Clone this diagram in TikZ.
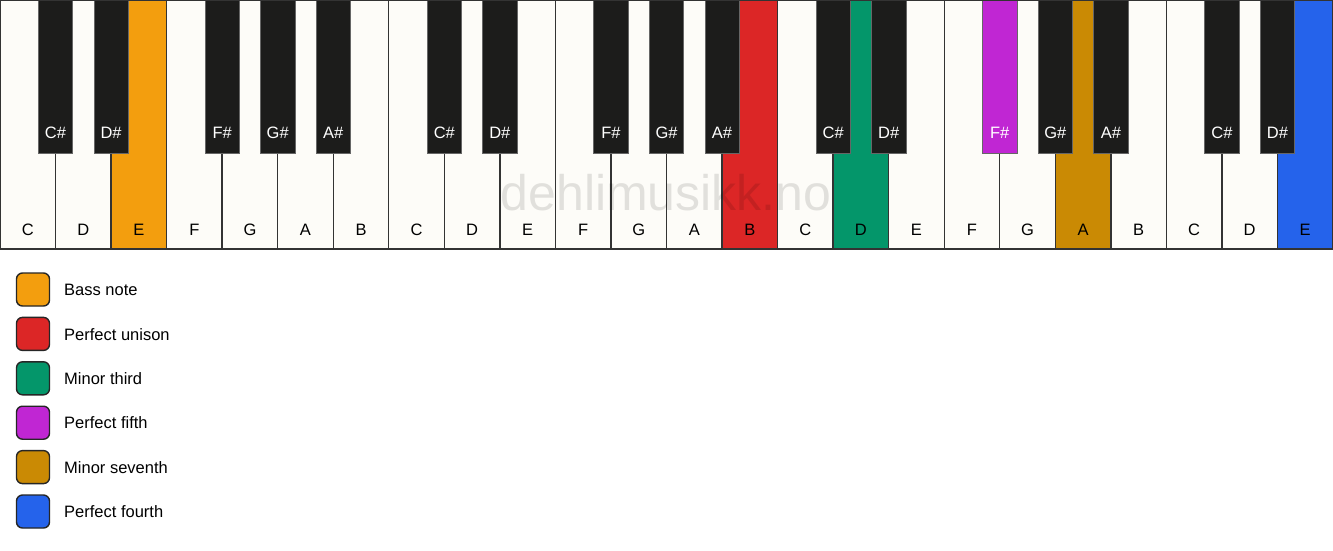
\documentclass[tikz,border=0pt]{standalone}
\usepackage{fontspec}
\setmainfont{Liberation Sans}
\usetikzlibrary{calc}
\definecolor{ivory}{HTML}{FDFCF8}
\definecolor{keyblack}{HTML}{1C1C1B}
\definecolor{edge}{HTML}{333333}
\definecolor{bassc}{HTML}{F39E0E}
\definecolor{unisonc}{HTML}{DC2626}
\definecolor{thirdc}{HTML}{04966A}
\definecolor{fifthc}{HTML}{C026D3}
\definecolor{seventhc}{HTML}{CA8A04}
\definecolor{fourthc}{HTML}{2563EB}
\tikzset{
  wkey/.style={draw=edge, line width=1.4pt, inner sep=0pt, outer sep=0pt, anchor=north west,
    minimum width=55.5417pt, minimum height=249pt},
  bkey/.style={draw=black!60, line width=0.6pt, inner sep=0pt, outer sep=0pt, anchor=north,
    minimum width=34.5pt, minimum height=153pt},
  wlabel/.style={font=\fontsize{16.5}{19}\selectfont, text=black, inner sep=0pt},
  blabel/.style={font=\fontsize{16.5}{19}\selectfont, text=white, inner sep=0pt},
  legbox/.style={draw=black!85, line width=1.4pt, rounded corners=6pt, minimum width=33pt,
    minimum height=33pt, inner sep=0pt},
  legtext/.style={font=\fontsize{16.5}{19}\selectfont, anchor=west, inner sep=0pt},
  watermark/.style={font=\fontsize{50}{60}\selectfont, text=black, text opacity=0.11, inner sep=0pt}
}
\begin{document}
\begin{tikzpicture}[x=1pt,y=-1pt]
\useasboundingbox[fill=white] (0,0) rectangle (1333,550);
\def\w{55.5417}
% white keys
\foreach \i/\n/\c in {0/C/ivory,1/D/ivory,2/E/bassc,3/F/ivory,4/G/ivory,5/A/ivory,6/B/ivory,
  7/C/ivory,8/D/ivory,9/E/ivory,10/F/ivory,11/G/ivory,12/A/ivory,13/B/unisonc,
  14/C/ivory,15/D/thirdc,16/E/ivory,17/F/ivory,18/G/ivory,19/A/seventhc,20/B/ivory,
  21/C/ivory,22/D/ivory,23/E/fourthc} {
  \node[wkey, fill=\c] (w\i) at ({\i*\w},0) {};
  \node[wlabel] (wl\i) at ($(w\i.south)+(0,-19)$) {\n};
}
% black keys (at boundary after white key index)
\foreach \i/\n/\c in {0/C\#/keyblack,1/D\#/keyblack,3/F\#/keyblack,4/G\#/keyblack,5/A\#/keyblack,
  7/C\#/keyblack,8/D\#/keyblack,10/F\#/keyblack,11/G\#/keyblack,12/A\#/keyblack,
  14/C\#/keyblack,15/D\#/keyblack,17/F\#/fifthc,18/G\#/keyblack,19/A\#/keyblack,
  21/C\#/keyblack,22/D\#/keyblack} {
  \node[bkey, fill=\c] (b\i) at ({(\i+1)*\w},0) {};
  \node[blabel] (bl\i) at ($(b\i.south)+(0,-20)$) {\n};
}
\draw[draw=edge, line width=1.4pt] (w0.north west) rectangle (w23.south east);
\node[watermark] (wm) at (666,193) {dehlimusikk.no};
% legend
\foreach \k/\c/\t in {0/bassc/Bass note,1/unisonc/Perfect unison,2/thirdc/Minor third,
  3/fifthc/Perfect fifth,4/seventhc/Minor seventh,5/fourthc/Perfect fourth} {
  \node[legbox, fill=\c] (lb\k) at (33,{289.5+44.4*\k}) {};
  \node[legtext] (lt\k) at (64,{289.8+44.4*\k}) {\t};
}
\end{tikzpicture}
\end{document}
